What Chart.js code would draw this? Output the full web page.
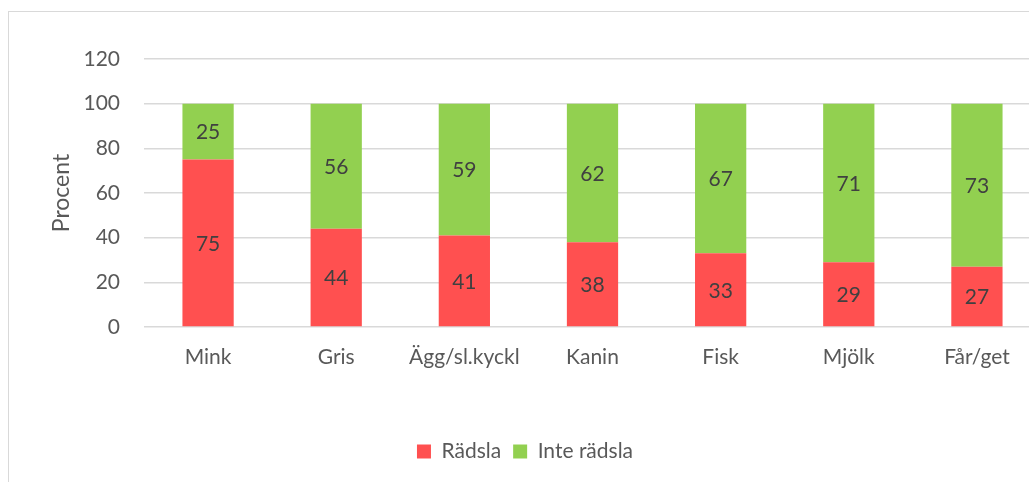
<!DOCTYPE html>
<html>
<head>
<meta charset="utf-8">
<script src="https://cdn.jsdelivr.net/npm/chart.js@4.4.0/dist/chart.umd.min.js"></script>
<style>
  html, body { margin: 0; padding: 0; background: #fff; overflow: hidden; }
  #frame { position: absolute; left: 8px; top: 11px; width: 1060px; height: 490px; border: 1px solid #d9d9d9; }
  #wrap { position: absolute; left: 0; top: 0; width: 1044px; height: 470px; }
</style>
</head>
<body>
<div id="frame"><div id="wrap"><canvas id="myChart"></canvas></div></div>
<script>
// Data
var categories = ['Mink', 'Gris', 'Ägg/sl.kyckl', 'Kanin', 'Fisk', 'Mjölk', 'Får/get'];
var radsla = [75, 44, 41, 38, 33, 29, 27];
var inteRadsla = [25, 56, 59, 62, 67, 71, 73];
var yTicks = [0, 20, 40, 60, 80, 100, 120];

var FONT = 'Lato, "Liberation Sans", sans-serif';

// Simple label plugin: writes each value in the middle of its bar segment
var barLabels = {
  id: 'barLabels',
  afterDatasetsDraw: function (chart) {
    var ctx = chart.ctx;
    ctx.save();
    ctx.font = '21px ' + FONT;
    ctx.fillStyle = '#404040';
    ctx.textAlign = 'center';
    ctx.textBaseline = 'middle';
    chart.data.datasets.forEach(function (ds, i) {
      chart.getDatasetMeta(i).data.forEach(function (bar, j) {
        var p = bar.getProps(['x', 'y', 'base'], true);
        ctx.fillText(ds.data[j], p.x, (p.y + p.base) / 2 + 1);
      });
    });
    ctx.restore();
  }
};

document.addEventListener('DOMContentLoaded', function () {
  var canvas = document.getElementById('myChart');
  new Chart(canvas.getContext('2d'), {
    type: 'bar',
    data: {
      labels: categories,
      datasets: [{
        label: 'Rädsla',
        data: radsla,
        backgroundColor: '#FF5050',
        barPercentage: 0.4,
        categoryPercentage: 1
      }, {
        label: 'Inte rädsla',
        data: inteRadsla,
        backgroundColor: '#92D050',
        barPercentage: 0.4,
        categoryPercentage: 1
      }]
    },
    options: {
      responsive: true,
      maintainAspectRatio: false,
      animation: false,
      layout: { padding: { left: 0, right: 12, top: 47, bottom: 10 } },
      plugins: {
        legend: {
          position: 'bottom',
          labels: {
            boxWidth: 14, boxHeight: 14, padding: 12,
            color: '#595959',
            font: { family: FONT, size: 21 }
          }
        },
        tooltip: { enabled: false }
      },
      scales: {
        x: {
          stacked: true,
          grid: { display: false },
          border: { display: false },
          ticks: { color: '#595959', padding: 10, font: { family: FONT, size: 21 } },
          afterFit: function (scale) { scale.height = 102; }
        },
        y: {
          stacked: true,
          min: 0, max: 120,
          grid: { color: '#d9d9d9', lineWidth: 1.5, drawTicks: false },
          border: { display: false },
          afterBuildTicks: function (scale) {
            scale.ticks = yTicks.map(function (v) { return { value: v }; });
          },
          ticks: { color: '#595959', padding: 24, font: { family: FONT, size: 21 } },
          title: {
            display: true, text: 'Procent', color: '#595959',
            padding: { top: 39, bottom: 0 },
            font: { family: FONT, size: 23 }
          },
          afterFit: function (scale) { scale.width = 135; }
        }
      }
    },
    plugins: [barLabels]
  });
});
</script>
</body>
</html>
